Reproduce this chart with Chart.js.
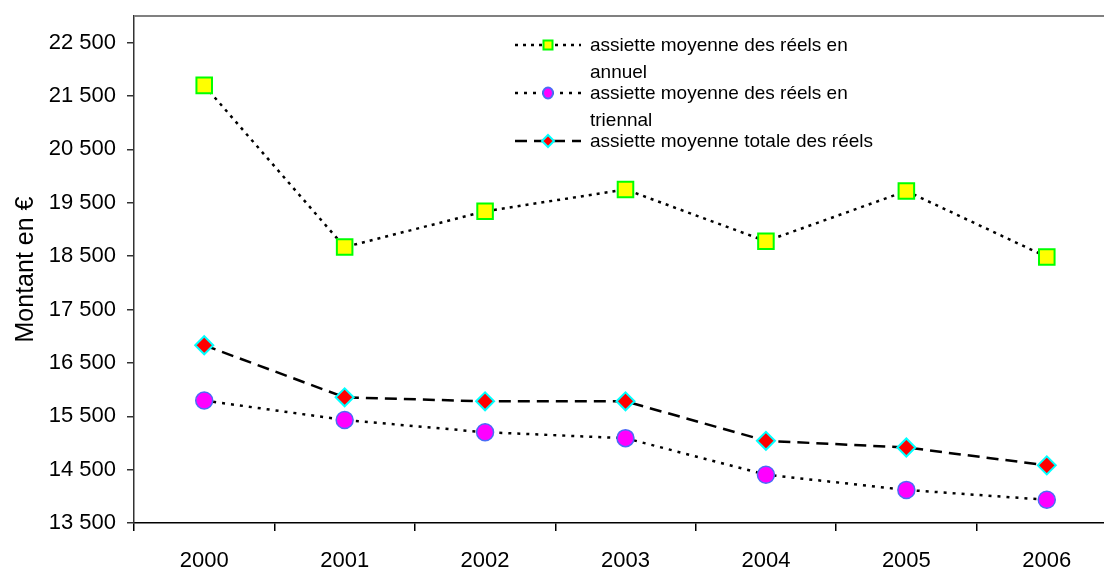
<!DOCTYPE html>
<html>
<head>
<meta charset="utf-8">
<script src="https://cdn.jsdelivr.net/npm/chart.js@4/dist/chart.umd.min.js"></script>
<style>
  html, body { margin: 0; padding: 0; background: #fff; overflow: hidden; }
  #wrap { width: 1130px; height: 571px; }
</style>
</head>
<body>
<div id="wrap"><canvas id="chart" width="1130" height="571"></canvas></div>
<script>
// Data
const years = ["2000", "2001", "2002", "2003", "2004", "2005", "2006"];
const annuel = [21700, 18670, 19340, 19750, 18780, 19720, 18485];
const triennal = [15795, 15430, 15200, 15090, 14405, 14120, 13935];
const totale = [16830, 15855, 15780, 15780, 15040, 14915, 14580];
const yTicks = [13500, 14500, 15500, 16500, 17500, 18500, 19500, 20500, 21500, 22500];

const legendLabels = [
  ["assiette moyenne des réels en", "annuel"],
  ["assiette moyenne des réels en", "triennal"],
  ["assiette moyenne totale des réels"],
];

const FONT = "'Liberation Sans', Arial, sans-serif";

// Format 21500 -> "21 500"
function fmt(v) {
  return String(v).replace(/\B(?=(\d{3})+(?!\d))/g, " ");
}

// Gray frame line along the top of the plot area
const frame = {
  id: "frame",
  beforeDatasetsDraw(chart) {
    const { ctx, chartArea } = chart;
    ctx.save();
    ctx.strokeStyle = "#808080";
    ctx.lineWidth = 2;
    ctx.beginPath();
    ctx.moveTo(chartArea.left, chartArea.top);
    ctx.lineTo(chartArea.right, chartArea.top);
    ctx.stroke();
    ctx.restore();
  },
};

// Legend drawn inside the plot, with wrapped labels
const insideLegend = {
  id: "insideLegend",
  afterDraw(chart) {
    const { ctx } = chart;
    const rows = [45, 93, 141];
    const mx = 548;
    ctx.save();
    chart.data.datasets.forEach((ds, i) => {
      const y = rows[i];
      ctx.strokeStyle = "#000";
      ctx.lineWidth = ds.borderWidth;
      ctx.setLineDash(ds.borderDash);
      ctx.beginPath();
      ctx.moveTo(515, y);
      ctx.lineTo(581, y);
      ctx.stroke();
      ctx.setLineDash([]);

      ctx.fillStyle = ds.pointBackgroundColor;
      ctx.strokeStyle = ds.pointBorderColor;
      ctx.lineWidth = 2;
      ctx.beginPath();
      if (ds.pointStyle === "rect") {
        ctx.rect(mx - 4.5, y - 4.5, 9, 9);
      } else if (ds.pointStyle === "circle") {
        ctx.ellipse(mx, y, 5, 5.5, 0, 0, Math.PI * 2);
      } else {
        ctx.moveTo(mx - 6, y);
        ctx.lineTo(mx, y - 6);
        ctx.lineTo(mx + 6, y);
        ctx.lineTo(mx, y + 6);
        ctx.closePath();
      }
      ctx.fill();
      ctx.stroke();

      ctx.fillStyle = "#000";
      ctx.font = "19px " + FONT;
      ctx.textBaseline = "middle";
      ctx.textAlign = "left";
      legendLabels[i].forEach((line, k) => {
        ctx.fillText(line, 590, y + 1 + k * 27);
      });
    });
    ctx.restore();
  },
};

new Chart(document.getElementById("chart"), {
  type: "line",
  data: {
    labels: years,
    datasets: [
      {
        label: "assiette moyenne des réels en annuel",
        data: annuel,
        borderColor: "#000",
        borderWidth: 2.5,
        borderDash: [3, 5],
        pointStyle: "rect",
        pointRadius: 11,
        pointBackgroundColor: "#ffff00",
        pointBorderColor: "#00ff00",
        pointBorderWidth: 2,
        tension: 0,
      },
      {
        label: "assiette moyenne des réels en triennal",
        data: triennal,
        borderColor: "#000",
        borderWidth: 2.5,
        borderDash: [3, 6],
        pointStyle: "circle",
        pointRadius: 8.5,
        pointBackgroundColor: "#ff00ff",
        pointBorderColor: "#4a6cf7",
        pointBorderWidth: 1.5,
        tension: 0,
      },
      {
        label: "assiette moyenne totale des réels",
        data: totale,
        borderColor: "#000",
        borderWidth: 2.5,
        borderDash: [12, 7],
        pointStyle: "rectRot",
        pointRadius: 9,
        pointBackgroundColor: "#ff0000",
        pointBorderColor: "#00ffff",
        pointBorderWidth: 2,
        tension: 0,
      },
    ],
  },
  options: {
    responsive: false,
    animation: false,
    devicePixelRatio: 1,
    layout: { padding: { top: 16, right: 4, left: 0, bottom: 0 } },
    plugins: {
      legend: { display: false },
      tooltip: { enabled: false },
    },
    scales: {
      x: {
        offset: true,
        afterFit: (scale) => {
          scale.height = 48;
          scale.paddingLeft = 0;
          scale.paddingRight = 0;
        },
        grid: {
          offset: true,
          drawOnChartArea: false,
          drawTicks: true,
          tickLength: 8,
          color: "#000",
          lineWidth: 1.5,
        },
        border: { display: true, color: "#000", width: 1.5 },
        ticks: {
          color: "#000",
          padding: 17,
          font: { family: FONT, size: 22 },
        },
      },
      y: {
        min: 13500,
        max: 23000,
        afterFit: (scale) => {
          scale.width = 134;
          scale.paddingTop = 0;
          scale.paddingBottom = 0;
        },
        afterBuildTicks: (scale) => {
          scale.ticks = yTicks.map((v) => ({ value: v }));
        },
        grid: {
          drawOnChartArea: false,
          drawTicks: true,
          tickLength: 7,
          color: "#333",
          lineWidth: 1.5,
        },
        border: { display: true, color: "#333", width: 1.5 },
        ticks: {
          color: "#000",
          padding: 11,
          font: { family: FONT, size: 22 },
          callback: (v) => fmt(v),
        },
        title: {
          display: true,
          text: "Montant en €",
          color: "#000",
          font: { family: FONT, size: 25 },
          padding: { top: 11, bottom: 0 },
        },
      },
    },
  },
  plugins: [frame, insideLegend],
});
</script>
</body>
</html>
